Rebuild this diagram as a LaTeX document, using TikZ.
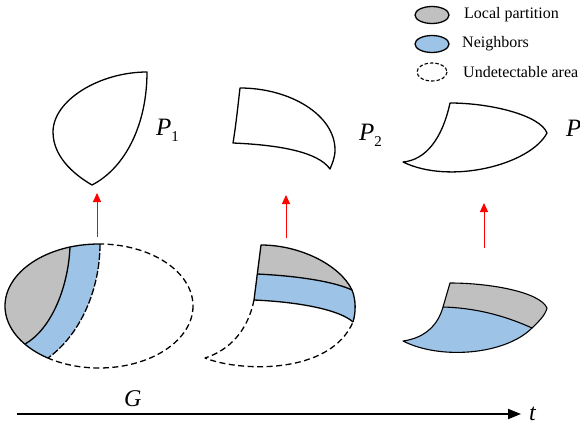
\documentclass[tikz,border=0pt]{standalone}
\usepackage{fontspec}
\setmainfont{Liberation Serif}
\usetikzlibrary{arrows.meta}
\definecolor{lgray}{HTML}{C0C0C0}
\definecolor{lblue}{HTML}{9DC3E6}
\begin{document}
\begin{tikzpicture}[x=1pt,y=-1pt,line join=round,
  outl/.style={draw=black,line width=1.3pt},
  thin outl/.style={draw=black,line width=1.1pt},
  undet/.style={draw=black,line width=1.3pt,dash pattern=on 6pt off 3.5pt},
  uparrow/.style={red,line width=0.9pt,-{Triangle[length=9pt,width=8pt]}},
  legtext/.style={anchor=west,inner sep=0pt,font=\fontsize{16}{16}\selectfont},
  plabel/.style={anchor=base west,inner sep=0pt,font=\fontsize{25}{25}\selectfont}]
\useasboundingbox (0,0) rectangle (580,428);

% legend
\draw[outl,fill=lgray] (432,15) ellipse [x radius=17,y radius=8.5];
\draw[outl,fill=lblue] (432,44) ellipse [x radius=17,y radius=8.5];
\draw[undet,line width=1.1pt,dash pattern=on 3.5pt off 2pt] (432,72) ellipse [x radius=15,y radius=9];
\node[legtext] (leg1) at (464,15) {Local partition};
\node[legtext] (leg2) at (462,44) {Neighbors};
\node[legtext] (leg3) at (463,72) {Undetectable area};

% top shapes P1, P2, P3
\draw[outl] (147,72) .. controls (100,72) and (53,100) .. (53,132)
  .. controls (53,160) and (80,178) .. (92,185)
  .. controls (125,168) and (147,125) .. (147,72) -- cycle;
\draw[outl] (240,88) .. controls (290,88) and (335,115) .. (335,150)
  .. controls (335,158) and (332,164) .. (330,169)
  .. controls (318,152) and (280,145) .. (233,143)
  .. controls (236,125) and (238,105) .. (240,88) -- cycle;
\draw[outl] (450,103) .. controls (490,103) and (540,115) .. (547,133)
  .. controls (530,165) and (450,185) .. (403,162)
  .. controls (425,160) and (442,140) .. (450,103) -- cycle;
\node[plabel] (p1) at (156,135) {\itshape P\raisebox{-6pt}{\fontsize{15}{15}\selectfont\upshape 1}};
\node[plabel] (p2) at (359,140) {\itshape P\raisebox{-6pt}{\fontsize{15}{15}\selectfont\upshape 2}};
\node[plabel] (p3) at (566,136) {\itshape P\raisebox{-6pt}{\fontsize{15}{15}\selectfont\upshape 3}};

% G1
\begin{scope}
  \clip (99,306) ellipse [x radius=94,y radius=62];
  \fill[lgray] (71,230) -- (70,247) .. controls (68,290) and (50,330) .. (25,344)
    -- (10,360) -- (0,360) -- (0,230) -- cycle;
  \fill[lblue] (71,230) -- (70,247) .. controls (68,290) and (50,330) .. (25,344)
    -- (10,360) -- (38,372) -- (48,358) .. controls (80,335) and (100,290) .. (100,244)
    -- (100,230) -- cycle;
\end{scope}
\begin{scope}
  \clip (100,230) -- (100,244) .. controls (100,290) and (80,335) .. (48,358)
    -- (38,375) -- (0,375) -- (0,230) -- cycle;
  \draw[outl] (99,306) ellipse [x radius=94,y radius=62];
\end{scope}
\begin{scope}
  \clip (100,230) -- (100,244) .. controls (100,290) and (80,335) .. (48,358)
    -- (38,375) -- (210,375) -- (210,230) -- cycle;
  \draw[undet] (99,306) ellipse [x radius=94,y radius=62];
\end{scope}
\draw[outl] (70,247) .. controls (68,290) and (50,330) .. (25,344);
\draw[undet,dash pattern=on 7pt off 2pt] (100,244) .. controls (100,290) and (80,335) .. (48,358);

% G2
\fill[lgray] (261,245) .. controls (300,245) and (340,265) .. (352,290)
  .. controls (335,282) and (300,276) .. (257,274) -- cycle;
\fill[lblue] (257,274) .. controls (300,276) and (335,282) .. (352,290)
  .. controls (356,300) and (356,312) .. (353,322)
  .. controls (340,310) and (300,302) .. (254,300) -- cycle;
\draw[outl] (254,300) -- (261,245) .. controls (300,245) and (340,265) .. (352,290)
  .. controls (356,300) and (356,312) .. (353,322);
\draw[outl] (257,274) .. controls (300,276) and (335,282) .. (352,290);
\draw[outl] (254,300) .. controls (300,302) and (340,310) .. (353,322);
\draw[undet] (254,300) .. controls (248,330) and (230,350) .. (205,358)
  .. controls (240,372) and (330,375) .. (353,322);

% G3
\fill[lgray] (450,283) .. controls (490,283) and (540,292) .. (547,308)
  .. controls (545,316) and (538,322) .. (532,328)
  .. controls (510,318) and (480,308) .. (443,307)
  .. controls (446,295) .. (450,283) -- cycle;
\fill[lblue] (443,307) .. controls (480,308) and (510,318) .. (532,328)
  .. controls (505,355) and (440,360) .. (403,341)
  .. controls (425,338) and (438,325) .. (443,307) -- cycle;
\draw[thin outl] (450,283) .. controls (490,283) and (540,292) .. (547,308)
  .. controls (545,316) and (538,322) .. (532,328)
  .. controls (505,355) and (440,360) .. (403,341)
  .. controls (425,338) and (438,325) .. (443,307)
  .. controls (446,295) .. (450,283) -- cycle;
\draw[thin outl] (443,307) .. controls (480,308) and (510,318) .. (532,328);

% red arrows
\coordinate (a1s) at (97,237); \coordinate (a1e) at (97,193);
\coordinate (a2s) at (286,238); \coordinate (a2e) at (286,195);
\coordinate (a3s) at (484,248); \coordinate (a3e) at (484,203);
\draw[uparrow] (a1s) -- (a1e);
\draw[uparrow] (a2s) -- (a2e);
\draw[uparrow] (a3s) -- (a3e);

% time axis
\coordinate (ax0) at (17,414); \coordinate (ax1) at (521,414);
\draw[line width=2pt,-{Triangle[length=13pt,width=10pt]}] (ax0) -- (ax1);
\node[plabel,font=\fontsize{24}{24}\selectfont\itshape] (glab) at (124,406) {G};
\node[plabel,font=\fontsize{24}{24}\selectfont\itshape] (tlab) at (529,420) {t};
\end{tikzpicture}
\end{document}
